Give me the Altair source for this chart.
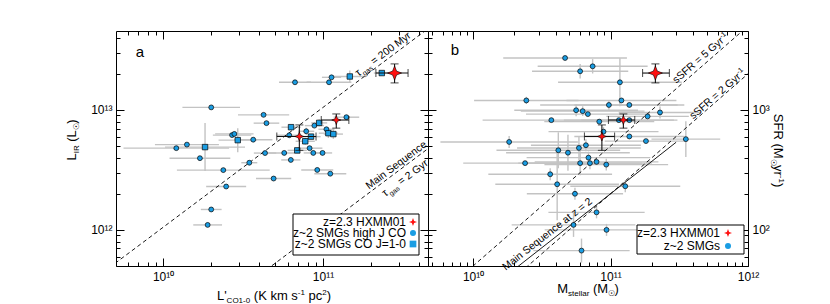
import math
import altair as alt
import pandas as pd

FONT = "Liberation Sans"
BLUE = "#1a9de3"
RED = "#ff1010"
GRAY = "#c3c3c3"
STAR = "M0,-1L0.28,-0.28L1,0L0.28,0.28L0,1L-0.28,0.28L-1,0L-0.28,-0.28Z"

# ---------------- panel a : L'CO(1-0) vs L_IR ----------------
a_hj_lco = [6.68e10, 1.09e11, 1.13e11, 2.0e10, 4.25e10, 4.43e10, 1.40e11, 8.83e10, 2.70e10, 2.79e10,
            3.66e10, 7.85e10, 1.05e11, 6.15e10, 8.24e10, 1.21e10, 1.41e10, 1.70e10, 3.46e10, 4.34e10,
            5.72e10, 6.29e10, 8.69e10, 9.93e10, 2.38e10, 4.91e10, 9.2e10, 1.11e11, 2.48e10, 2.0e10, 1.90e10]
a_hj_lir = [1.70e13, 1.70e13, 1.87e13, 1.05e13, 9.1e12, 7.76e12, 8.7e12, 7.4e12, 6.17e12, 6.31e12,
            5.65e12, 6.64e12, 6.9e12, 6.15e12, 4.8e12, 4.8e12, 5.14e12, 3.96e12, 3.63e12, 4.37e12,
            4.38e12, 3.83e12, 4.38e12, 4.38e12, 3.15e12, 2.68e12, 3.16e12, 2.94e12, 2.30e12, 1.48e12, 1.10e12]
a_hj_xerr = [0.10, 0.14, 0.06, 0.18, 0.16, 0.08, 0.08, 0.06, 0.12, 0.12,
             0.12, 0.05, 0.05, 0.08, 0.08, 0.33, 0.20, 0.19, 0.05, 0.07,
             0.10, 0.06, 0.06, 0.06, 0.29, 0.11, 0.10, 0.10, 0.125, 0.065, 0.09]
a_hj_yerr = [0, 0, 0, 0, 0, 0, 0, 0, 0, 0,
             0, 0.03, 0, 0, 0, 0, 0, 0, 0, 0,
             0, 0, 0, 0, 0, 0, 0, 0, 0, 0, 0]

a_co10_lco = [1.47e11, 2.33e11, 9.46e10, 6.31e10, 2.93e10, 1.83e10, 1.08e11, 1.16e11, 8.41e10, 7.74e10, 6.9e10]
a_co10_lir = [1.90e13, 2.03e13, 7.8e12, 7.18e12, 5.6e12, 4.9e12, 6.4e12, 6.29e12, 5.99e12, 5.48e12, 4.6e12]
a_co10_xerr = [0.10, 0.05, 0.05, 0.06, 0.12, 0.25, 0.06, 0.06, 0.06, 0.06, 0.06]
a_co10_yerr = [0.05, 0, 0.03, 0, 0.10, 0.20, 0.04, 0.04, 0, 0.03, 0]

# HXMM01 (three components)
hx_lir = [2.03e13, 8.24e12, 6.01e12]
hx_lir_lo = [1.68e13, 7.05e12, 4.6e12]
hx_lir_hi = [2.42e13, 9.26e12, 7.5e12]
hx_lco = [2.80e11, 1.21e11, 7.11e10]
hx_lco_lo = [2.14e11, 9.75e10, 5.14e10]
hx_lco_hi = [3.40e11, 1.45e11, 9.04e10]
hx_mstar = [2.12e11, 1.24e11, 8.65e10]
hx_mstar_lo = [1.71e11, 9.66e10, 6.46e10]
hx_mstar_hi = [2.68e11, 1.50e11, 1.07e11]

# ---------------- panel b : M_stellar vs L_IR ----------------
b_smg_mstar = [4.67e10, 7.41e10, 6.01e10, 1.17e11, 2.44e10, 9.73e10, 1.20e11, 1.37e11, 5.62e10, 6.27e10,
               6.84e10, 3.71e10, 8.28e10, 1.15e11, 1.37e11, 1.86e11, 2.29e11, 8.89e10, 1.37e11, 1.81e11,
               3.53e11, 1.83e10, 4.17e10, 4.90e10, 5.89e10, 6.62e10, 2.39e10, 6.91e10, 6.01e10, 7.08e10,
               7.91e10, 9.31e10, 3.64e10, 4.09e10, 5.51e10, 1.28e11, 7.91e10, 5.38e10, 9.35e10, 6.15e10]
b_smg_lir = [2.71e13, 2.31e13, 2.10e13, 1.70e13, 1.20e13, 1.10e13, 1.20e13, 1.10e13, 9.94e12, 9.77e12,
             9.23e12, 8.22e12, 7.99e12, 8.22e12, 8.22e12, 8.83e12, 9.53e12, 6.59e12, 6.01e12, 5.50e12,
             5.71e12, 5.41e12, 4.61e12, 4.40e12, 4.82e12, 5.08e12, 3.60e12, 4.00e12, 3.60e12, 3.60e12,
             3.69e12, 3.50e12, 2.91e12, 2.40e12, 2.00e12, 2.31e12, 1.40e12, 1.10e12, 1.00e12, 6.72e11]
b_smg_xerr = [0.45, 0.40, 0.35, 0.45, 0.38, 0.50, 0.40, 0.40, 0.45, 0.45,
              0.45, 0.50, 0.40, 0.40, 0.35, 0.30, 0.30, 0.40, 0.40, 0.30,
              0.25, 0.50, 0.45, 0.45, 0.45, 0.40, 0.45, 0.45, 0.45, 0.45,
              0.45, 0.45, 0.45, 0.45, 0.35, 0.40, 0.35, 0.45, 0.45, 0.35]
b_smg_yerr = [0, 0.06, 0.06, 0.20, 0.03, 0.04, 0, 0, 0.05, 0.04,
              0, 0, 0, 0, 0, 0, 0.05, 0.04, 0, 0,
              0.15, 0.05, 0.15, 0.15, 0.10, 0.05, 0, 0.05, 0.10, 0.05,
              0, 0.05, 0.05, 0.30, 0.05, 0.05, 0.05, 0.10, 0.05, 0.10]

# model lines
tau_ratios = [105.0, 10.5]          # L_IR / L'CO for tau_gas = 200 Myr and 2 Gyr
ssfr_ratios = [50.0, 20.0]          # L_IR / M_star for sSFR = 5 and 2 Gyr^-1
ms_norm, ms_slope, ms_mass = 2.0e12, 0.9, [1.0e10, 3.0e11]

# ticks
lir_major = [1e12, 1e13]
lir_labels = ["10¹²", "10¹³"]
sfr_labels = ["10²", "10³"]
xa_major = [1e10, 1e11]
xa_labels = ["10¹⁰", "10¹¹"]
xb_major = [1e10, 1e11, 1e12]
xb_labels = ["10¹⁰", "10¹¹", "10¹²"]

legend_a = ["z=2.3 HXMM01", "z~2 SMGs high J CO", "z~2 SMGs CO J=1-0"]
legend_b = ["z=2.3 HXMM01", "z~2 SMGs"]

# ---------------- layout constants ----------------
W_A, W_B, H = 312, 320, 235
Y_DOM = [5.0e11, 4.55e13]
XA_DOM = [5.08e9, 4.53e11]
XB_DOM = [4.7e9, 1.0e12]
HX_SIZES = [196, 81, 81]


def logscale(dom):
    return alt.Scale(type="log", domain=dom, nice=False)


YS = logscale(Y_DOM)
XAS = logscale(XA_DOM)
XBS = logscale(XB_DOM)
ONE = pd.DataFrame({"k": [0]})


def X(f, sc):
    return alt.X(f, type="quantitative", scale=sc, axis=None)


def Y(f):
    return alt.Y(f, type="quantitative", scale=YS, axis=None)


def minor(dom):
    out = []
    for e in range(8, 14):
        for m in range(2, 10):
            v = m * 10.0 ** e
            if dom[0] <= v <= dom[1]:
                out.append(v)
    return out


def lab_expr(vals, labs):
    v = ",".join(repr(float(x)) for x in vals)
    l = ",".join("'" + s + "'" for s in labs)
    return f"[{l}][indexof([{v}], datum.value)]"


def make_axis(orient, vals, size, labs=None, pad=4):
    kw = dict(orient=orient, values=vals, tickSize=size, offset=-size, domain=False,
              grid=False, title=None, ticks=True, tickColor="black", tickWidth=1)
    if labs is None:
        kw["labels"] = False
    else:
        kw.update(labels=True, labelExpr=lab_expr(vals, labs), labelFont=FONT,
                  labelFontSize=12, labelColor="black", labelPadding=pad,
                  labelOverlap=False, labelFlush=False)
    return alt.Axis(**kw)


def axis_layer(xsc, xdom, xaxis, yaxis):
    df = pd.DataFrame({"x": [math.sqrt(xdom[0] * xdom[1])], "y": [math.sqrt(Y_DOM[0] * Y_DOM[1])]})
    return alt.Chart(df).mark_point(opacity=0, clip=True).encode(
        x=alt.X("x", type="quantitative", scale=xsc, axis=xaxis),
        y=alt.Y("y", type="quantitative", scale=YS, axis=yaxis))


CW = {' ': 278, '(': 333, ')': 333, "'": 191, '-': 333, '=': 584, '.': 278, '~': 584,
      'A': 667, 'C': 722, 'F': 611, 'G': 778, 'H': 722, 'I': 278, 'J': 500, 'K': 667, 'L': 556,
      'M': 833, 'O': 778, 'R': 722, 'S': 667, 'X': 667,
      'a': 556, 'c': 500, 'e': 556, 'g': 556, 'h': 556, 'i': 222, 'k': 500, 'l': 222, 'm': 833,
      'n': 556, 'p': 556, 'q': 556, 'r': 333, 's': 500, 't': 278, 'u': 556, 'y': 500, 'z': 500,
      'τ': 480, '☉': 800}


def tw(s, size):
    return sum(CW.get(c, 556) for c in s) * size / 1000.0


def rich(base, pieces, angle=0, center=True, dy0=0.0):
    """Rich text made of pieces (text, size, rise); leading spaces become offsets."""
    total = sum(tw(t, s) for t, s, r in pieces)
    cum = -total / 2.0 if center else 0.0
    out = []
    for t, s, r in pieces:
        lead = len(t) - len(t.lstrip(" "))
        body = t.strip(" ")
        x0 = cum + tw(" " * lead, s)
        out.append(base.mark_text(text=body, font=FONT, fontSize=s, align="left",
                                  baseline="alphabetic", angle=angle, dx=round(x0, 2),
                                  dy=round(dy0 - r, 2), color="black"))
        cum += tw(t, s)
    return out


def pix(px, py):
    return alt.Chart(ONE).encode(x=alt.value(px), y=alt.value(py))


def at(x, y, sc):
    return alt.Chart(pd.DataFrame({"x": [x], "y": [y]})).encode(x=X("x", sc), y=Y("y"))


def err_frame(x, y, xe, ye):
    return pd.DataFrame({
        "x": x, "y": y,
        "xlo": [v / 10 ** e for v, e in zip(x, xe)], "xhi": [v * 10 ** e for v, e in zip(x, xe)],
        "ylo": [v / 10 ** e for v, e in zip(y, ye)], "yhi": [v * 10 ** e for v, e in zip(y, ye)],
        "ye": ye})


def gray_bars(df, sc):
    h = alt.Chart(df).mark_rule(color=GRAY, strokeWidth=1.4, clip=True).encode(
        x=X("xlo", sc), x2="xhi", y=Y("y"))
    v = alt.Chart(df[df["ye"] > 0]).mark_rule(color=GRAY, strokeWidth=1.4, clip=True).encode(
        x=X("x", sc), y=Y("ylo"), y2="yhi")
    return [h, v]


def hx_layers(x, xlo, xhi, sc):
    df = pd.DataFrame({"x": x, "xlo": xlo, "xhi": xhi, "y": hx_lir, "ylo": hx_lir_lo,
                       "yhi": hx_lir_hi, "s": HX_SIZES})
    c = alt.Chart(df)
    ec = "#111111"
    return [
        c.mark_rule(color=ec, strokeWidth=1.1).encode(x=X("xlo", sc), x2="xhi", y=Y("y")),
        c.mark_rule(color=ec, strokeWidth=1.1).encode(x=X("x", sc), y=Y("ylo"), y2="yhi"),
        c.mark_tick(orient="vertical", size=8, thickness=1.1, color=ec).encode(x=X("xlo", sc), y=Y("y")),
        c.mark_tick(orient="vertical", size=8, thickness=1.1, color=ec).encode(x=X("xhi", sc), y=Y("y")),
        c.mark_tick(orient="horizontal", size=8, thickness=1.1, color=ec).encode(x=X("x", sc), y=Y("ylo")),
        c.mark_tick(orient="horizontal", size=8, thickness=1.1, color=ec).encode(x=X("x", sc), y=Y("yhi")),
        c.mark_point(shape=STAR, filled=True, fill=RED, stroke="black", strokeWidth=0.6, opacity=1).encode(
            x=X("x", sc), y=Y("y"), size=alt.Size("s:Q", scale=None, legend=None)),
    ]


def ratio_line(ratio, sc, dash=True):
    xs = [1e9, 1e13]
    df = pd.DataFrame({"x": xs, "y": [ratio * v for v in xs]})
    kw = dict(color="black", strokeWidth=0.9, clip=True)
    if dash:
        kw["strokeDash"] = [4, 3]
    return alt.Chart(df).mark_line(**kw).encode(x=X("x", sc), y=Y("y"))


def frame_axes(xsc, xdom, xmaj, xlabs, ylabs_left, ylabs_right):
    xmin = minor(xdom)
    ymin = minor(Y_DOM)
    return [
        axis_layer(xsc, xdom, make_axis("bottom", xmaj, 8, xlabs, 5), make_axis("left", lir_major, 8, ylabs_left, 4)),
        axis_layer(xsc, xdom, make_axis("bottom", xmin, 4), make_axis("left", ymin, 4)),
        axis_layer(xsc, xdom, make_axis("top", xmaj, 8), make_axis("right", lir_major, 8, ylabs_right, 4)),
        axis_layer(xsc, xdom, make_axis("top", xmin, 4), make_axis("right", ymin, 4)),
    ]


def legend_layers(labels, symbols, box, text_x, sym_x, rows):
    out = [alt.Chart(ONE).mark_rect(fill="white", stroke="black", strokeWidth=1).encode(
        x=alt.value(box[0]), x2=alt.value(box[1]), y=alt.value(box[2]), y2=alt.value(box[3]))]
    for lab, (shape, col, size), ry in zip(labels, symbols, rows):
        out.append(pix(text_x, ry).mark_text(text=lab, font=FONT, fontSize=12, align="right",
                                              baseline="middle", color="black"))
        out.append(pix(sym_x, ry).mark_point(shape=shape, filled=True, fill=col, size=size,
                                              strokeWidth=0, opacity=1))
    return out


# ---------------- panel a ----------------
dfa_hj = err_frame(a_hj_lco, a_hj_lir, a_hj_xerr, a_hj_yerr)
dfa_co = err_frame(a_co10_lco, a_co10_lir, a_co10_xerr, a_co10_yerr)

layers_a = []
layers_a += gray_bars(dfa_hj, XAS) + gray_bars(dfa_co, XAS)
layers_a += [ratio_line(r, XAS) for r in tau_ratios]
layers_a.append(alt.Chart(dfa_hj).mark_point(shape="circle", filled=True, fill=BLUE, stroke="black",
                                             strokeWidth=0.7, size=24, opacity=1).encode(x=X("x", XAS), y=Y("y")))
layers_a.append(alt.Chart(dfa_co).mark_point(shape="square", filled=True, fill=BLUE, stroke="black",
                                             strokeWidth=0.7, size=30, opacity=1).encode(x=X("x", XAS), y=Y("y")))
layers_a += hx_layers(hx_lco, hx_lco_lo, hx_lco_hi, XAS)
ANG_A = 360 - math.degrees(math.atan(120.0 / 160.0))
layers_a += rich(at(2.37e11, 2.93e13, XAS), [("τ", 11, 0), ("gas", 7, -3), (" = 200 Myr", 10.5, 0)], ANG_A, dy0=3.5)
layers_a += rich(at(2.86e11, 3.48e12, XAS), [("Main Sequence", 10.5, 0)], ANG_A, dy0=3.5)
layers_a += rich(at(3.25e11, 2.71e12, XAS), [("τ", 11, 0), ("gas", 7, -3), (" = 2 Gyr", 10.5, 0)], ANG_A, dy0=3.5)
layers_a.append(pix(24, 21).mark_text(text="a", font=FONT, fontSize=15, align="center", baseline="middle", color="black"))
layers_a += legend_layers(legend_a, [(STAR, RED, 64), ("circle", BLUE, 36), ("square", BLUE, 45)],
                          (177, 303, 183, 224), 290, 297, [191, 202, 213])
layers_a += rich(pix(158, 269), [("L'", 13, 0), ("CO1-0", 8, -3), (" (K km s", 13, 0), ("-1", 8, 5),
                                 (" pc", 13, 0), ("2", 8, 5), (")", 13, 0)])
layers_a += rich(pix(-40, 109), [("L", 13, 0), ("IR", 8, -3), (" (L", 13, 0), ("☉", 8, -3), (")", 13, 0)], 270)
layers_a += frame_axes(XAS, XA_DOM, xa_major, xa_labels, lir_labels, None)

panel_a = alt.layer(*layers_a).resolve_axis(x="independent", y="independent").properties(width=W_A, height=H)

# ---------------- panel b ----------------
dfb = err_frame(b_smg_mstar, b_smg_lir, b_smg_xerr, b_smg_yerr)
layers_b = []
layers_b += gray_bars(dfb, XBS)
layers_b += [ratio_line(r, XBS) for r in ssfr_ratios]
ms_df = pd.DataFrame({"x": ms_mass, "y": [ms_norm * (m / 1e11) ** ms_slope for m in ms_mass]})
layers_b.append(alt.Chart(ms_df).mark_line(color="black", strokeWidth=0.9, clip=True).encode(x=X("x", XBS), y=Y("y")))
layers_b.append(alt.Chart(dfb).mark_point(shape="circle", filled=True, fill=BLUE, stroke="black",
                                          strokeWidth=0.7, size=24, opacity=1).encode(x=X("x", XBS), y=Y("y")))
layers_b += hx_layers(hx_mstar, hx_mstar_lo, hx_mstar_hi, XBS)
ANG_B = 360 - math.degrees(math.atan(120.0 / 137.5))
layers_b += rich(at(4.5e11, 2.71e13, XBS), [("sSFR = 5 Gyr", 10.5, 0), ("-1", 7, 4)], ANG_B, dy0=3.5)
layers_b += rich(at(5.98e11, 1.36e13, XBS), [("sSFR = 2 Gyr", 10.5, 0), ("-1", 7, 4)], ANG_B, dy0=3.5)
layers_b += rich(at(3.46e10, 9.27e11, XBS), [("Main Sequence at z = 2", 10.5, 0)], 322, dy0=3.5)
layers_b.append(pix(27, 19).mark_text(text="b", font=FONT, fontSize=15, align="center", baseline="middle", color="black"))
layers_b += legend_layers(legend_b, [(STAR, RED, 64), ("circle", BLUE, 36)],
                          (209, 316, 194, 223), 292, 300, [202, 215])
layers_b += rich(pix(160, 262), [("M", 13, 0), ("stellar", 8, -3), (" (M", 13, 0), ("☉", 8, -3), (")", 13, 0)])
layers_b += rich(pix(346, 119.5), [("SFR (M", 13, 0), ("☉", 8, -3), ("yr", 13, 0), ("-1", 8, 5), (")", 13, 0)], 90)
layers_b += frame_axes(XBS, XB_DOM, xb_major, xb_labels, None, sfr_labels)

panel_b = alt.layer(*layers_b).resolve_axis(x="independent", y="independent").properties(width=W_B, height=H)

chart = alt.hconcat(panel_a, panel_b, spacing=0, bounds="flush").properties(
    padding={"left": 57, "top": 21, "right": 5, "bottom": 0}
).configure_view(stroke="black", strokeWidth=1)

chart.save("out.html", embed_options={"renderer": "svg", "actions": False})
